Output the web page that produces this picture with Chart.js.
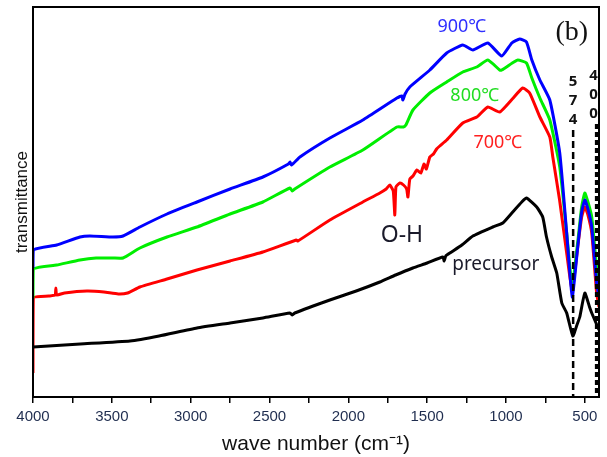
<!DOCTYPE html>
<html>
<head>
<meta charset="utf-8">
<script src="https://cdn.jsdelivr.net/npm/chart.js@4/dist/chart.umd.min.js"></script>
<style>
  html, body { margin: 0; padding: 0; background: #fff; }
</style>
</head>
<body>
<canvas id="myChart" width="607" height="457"></canvas>
<script>
// wave numbers (cm-1) and transmittance (arbitrary units)
const wnPrecursor = [4000, 3700, 3385, 3200, 2960, 2750, 2542, 2370, 2355, 2340, 2117, 1950, 1800, 1700, 1591, 1500, 1400, 1392, 1382, 1356, 1280, 1210, 1084, 1020, 957, 900, 870, 805, 767, 743, 710, 678, 646, 615, 576, 550, 532, 500, 470, 456, 418, 410];
const tPrecursor  = [50, 53, 56, 61, 69, 74, 79, 84, 82, 84, 97, 106, 115, 122, 129, 134, 140, 136, 141, 144, 152, 161, 170, 174, 185, 195, 199, 190, 180, 160, 140, 124, 94, 84, 61, 72, 80, 104, 90, 84, 70, 67];

const wn700 = [4000, 3998, 3900, 3860, 3855, 3850, 3800, 3658, 3550, 3460, 3400, 3322, 3150, 2960, 2750, 2542, 2330, 2320, 2117, 1908, 1800, 1760, 1737, 1715, 1705, 1698, 1673, 1650, 1630, 1622, 1610, 1590, 1565, 1540, 1520, 1505, 1483, 1460, 1440, 1420, 1376, 1274, 1185, 1115, 1040, 960, 894, 850, 785, 722, 703, 660, 615, 580, 545, 520, 500, 480, 456, 425, 410];
const t700  = [24, 99, 101, 102, 109, 102, 104, 106, 105, 103, 104, 110, 118, 127, 136, 145, 157, 156, 177, 195, 204, 208, 212, 206, 182, 210, 214, 212, 208, 200, 218, 221, 227, 224, 233, 228, 240, 243, 248, 251, 257, 274, 280, 290, 285, 298, 309, 304, 280, 260, 240, 197, 144, 107, 150, 180, 190, 182, 164, 104, 90];

const wn800 = [4000, 3998, 3850, 3702, 3600, 3493, 3429, 3322, 3150, 2960, 2750, 2542, 2370, 2355, 2340, 2117, 1908, 1692, 1650, 1635, 1590, 1483, 1376, 1274, 1185, 1115, 1040, 1027, 960, 925, 870, 836, 785, 722, 659, 615, 580, 545, 520, 500, 480, 456, 425, 410];
const t800  = [99, 128, 132, 137, 139, 139, 139, 149, 160, 170, 183, 195, 209, 206, 208, 230, 247, 270, 270, 272, 287, 304, 315, 325, 330, 337, 327, 327, 334, 337, 334, 319, 299, 277, 230, 164, 112, 155, 190, 204, 195, 180, 130, 115];

const wn900 = [4000, 3998, 3850, 3702, 3639, 3493, 3429, 3322, 3150, 2960, 2750, 2542, 2380, 2370, 2360, 2307, 2117, 1908, 1692, 1660, 1654, 1640, 1610, 1483, 1376, 1274, 1210, 1115, 1027, 963, 913, 870, 836, 785, 722, 659, 615, 580, 545, 520, 500, 480, 456, 425, 410];
const t900  = [129, 147, 152, 160, 161, 160, 161, 170, 183, 195, 208, 220, 233, 235, 232, 240, 259, 277, 299, 301, 297, 303, 310, 327, 344, 352, 347, 354, 341, 354, 358, 355, 337, 317, 297, 244, 164, 100, 150, 185, 197, 188, 170, 114, 100];

const xTicks = [4000, 3750, 3500, 3250, 3000, 2750, 2500, 2250, 2000, 1750, 1500, 1250, 1000, 750, 500];

// marked bands
const bandLines = [
  { wn: 574, top: 267, width: 2.5, dash: [7, 4], label: ['5', '7', '4'], shift: 0 },
  { wn: 425, top: 273, width: 3.5, dash: [5, 3], label: ['4', '0', '0'], shift: -3 }
];

// text notes, in data units
const notes = [
  { text: '900\u2103', wn: 1280, t: 370, color: '#2f2fff', font: '18px "Noto Sans"' },
  { text: '800\u2103', wn: 1198, t: 301, color: '#22dd22', font: '18px "Noto Sans"' },
  { text: '700\u2103', wn: 1052, t: 254, color: '#ff2020', font: '18px "Noto Sans"' },
  { text: 'O-H', wn: 1660, t: 162, color: '#1a1a2a', font: '23px "Noto Sans"' },
  { text: 'precursor', wn: 1065, t: 132, color: '#1a1a2a', font: '19px "Noto Sans"' },
  { text: '(b)', wn: 583, t: 364, color: '#111', font: '28px "Liberation Serif"' }
];

function toPoints(xs, ys) {
  return xs.map((x, i) => ({ x: x, y: ys[i] }));
}

function series(xs, ys, color) {
  return {
    data: toPoints(xs, ys),
    borderColor: color,
    borderWidth: 3,
    pointRadius: 0,
    tension: 0.15,
    borderJoinStyle: 'round',
    fill: false
  };
}

const decorations = {
  id: 'decorations',
  afterDatasetsDraw(chart) {
    const c = chart.ctx;
    const xs = chart.scales.x;
    const ys = chart.scales.y;
    const area = chart.chartArea;

    c.save();
    bandLines.forEach(b => {
      const px = xs.getPixelForValue(b.wn);
      c.strokeStyle = '#000';
      c.lineWidth = b.width;
      c.setLineDash(b.dash);
      c.beginPath();
      c.moveTo(px, ys.getPixelForValue(b.top));
      c.lineTo(px, area.bottom);
      c.stroke();
      c.setLineDash([]);
      c.fillStyle = '#111';
      c.font = 'bold 15px "Noto Sans"';
      c.textAlign = 'center';
      c.textBaseline = 'middle';
      b.label.forEach((d, i) => {
        c.fillText(d, px + b.shift, ys.getPixelForValue(b.top) - 48 + i * 19);
      });
    });

    notes.forEach(n => {
      c.fillStyle = n.color;
      c.font = n.font;
      c.textAlign = 'center';
      c.textBaseline = 'middle';
      c.fillText(n.text, xs.getPixelForValue(n.wn), ys.getPixelForValue(n.t));
    });

    c.strokeStyle = '#000';
    c.lineWidth = 2;
    c.strokeRect(area.left, area.top, area.right - area.left, area.bottom - area.top);
    c.restore();
  }
};

const myChart = document.getElementById('myChart').getContext('2d');

const ftirChart = new Chart(myChart, {
  type: 'line',
  data: {
    datasets: [
      series(wnPrecursor, tPrecursor, '#000000'),
      series(wn900, t900, '#0000ff'),
      series(wn800, t800, '#00ee00'),
      series(wn700, t700, '#ff0000')
    ]
  },
  options: {
    responsive: false,
    animation: false,
    layout: { padding: { top: 7, right: 8, left: 0, bottom: 0 } },
    plugins: {
      legend: { display: false },
      tooltip: { enabled: false }
    },
    scales: {
      x: {
        type: 'linear',
        reverse: true,
        min: 410,
        max: 4000,
        afterBuildTicks: s => { s.ticks = xTicks.map(v => ({ value: v })); },
        afterFit: s => { s.height = 60; },
        ticks: {
          autoSkip: false,
          maxRotation: 0,
          padding: 5,
          color: '#1f2d4f',
          font: { family: 'Liberation Sans', size: 15 },
          callback: v => (v % 500 === 0 ? String(v) : '')
        },
        grid: { drawOnChartArea: false, tickLength: 6, color: '#000', lineWidth: 1.5 },
        border: { color: '#000', width: 2 },
        title: {
          display: true,
          text: 'wave number (cm\u207B\u00B9)',
          color: '#111',
          font: { family: 'Liberation Sans', size: 21 },
          padding: { top: 0, bottom: 0 }
        }
      },
      y: {
        min: 0,
        max: 390,
        afterFit: s => { s.width = 33; },
        ticks: { display: false },
        grid: { display: false },
        border: { color: '#000', width: 2 },
        title: {
          display: true,
          text: 'transmittance',
          color: '#111',
          font: { family: 'Liberation Sans', size: 17 },
          padding: { top: 12, bottom: 0 }
        }
      }
    }
  },
  plugins: [decorations]
});
</script>
</body>
</html>
